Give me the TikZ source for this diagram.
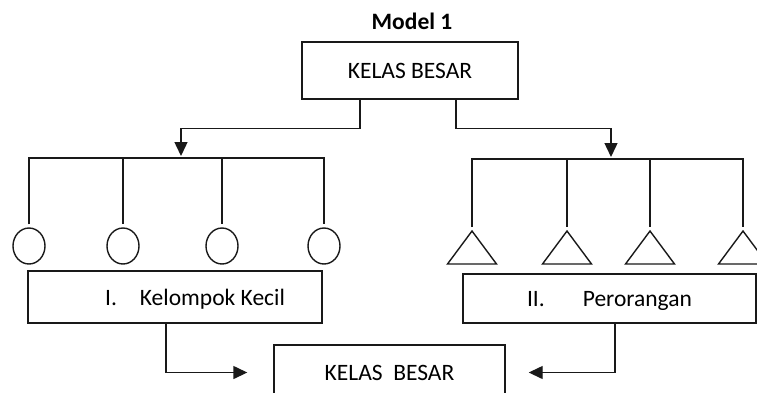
\documentclass[tikz,border=0pt]{standalone}
\usepackage{fontspec}
\setmainfont{Carlito}
\usetikzlibrary{arrows.meta,shapes.geometric}
\colorlet{linec}{black!90}
\tikzstyle{model} = [
  x=1pt,
  y=-1pt,
  line width=1.4pt,
  font=\fontsize{23.5}{28}\selectfont,
]
\tikzstyle{box} = [draw=linec, line width=1.4pt, inner sep=0pt, text depth=0pt]
\tikzstyle{member} = [ellipse, draw=linec, line width=1.4pt, inner sep=0pt,
  minimum width=32pt, minimum height=36pt]
\tikzstyle{arrow} = [-{Triangle[length=14pt,width=13pt]}]

\begin{document}
\begin{tikzpicture}[model]
      \useasboundingbox (0,0) rectangle (757,392);
      \clip (0,0) rectangle (757,392);

      % Boxes
      \node (judul) at (412,21) {\bfseries Model 1};
      \node[box, minimum width=216pt, minimum height=57pt] (kelas) at (410,70.5) {KELAS BESAR};
      \node[box, minimum width=294pt, minimum height=52pt] (kecil) at (175,297)
        {\hspace*{40pt}I.\hspace{23pt}Kelompok Kecil};
      \node[box, minimum width=293pt, minimum height=49pt] (orang) at (609.5,298.5)
        {II.\hspace{38pt}Perorangan};
      \node[box, minimum width=231pt, minimum height=55pt] (besar) at (389.5,372.5) {KELAS\ \ BESAR};

      \coordinate (combL) at (181,158);
      \coordinate (combR) at (611,159);

      % Circles
      \foreach \x [count=\i] in {29,123,222,324}
        \node[member] (c\i) at (\x,246) {};
      \draw[linec] ([yshift=3pt]c1.north) |- (combL) -| ([yshift=3pt]c4.north);
      \foreach \i in {2,3}
        \draw[linec] (c\i.north |- combL) -- ([yshift=3pt]c\i.north);

      % Triangles
      \foreach \x [count=\i] in {472,567,650,743} {
        \coordinate (t\i) at (\x,231);
        \draw[linec] (t\i) -- ++(-24.5,33) -- ++(49,0) -- cycle;
      }
      \draw[linec] ([yshift=4pt]t1) |- (combR) -| ([yshift=4pt]t4);
      \foreach \i in {2,3}
        \draw[linec] (t\i |- combR) -- ([yshift=4pt]t\i);

      % Arrows
      \draw[linec, arrow, shorten >=2pt] ([xshift=-50pt]kelas.south) -- ++(0,29) -| (combL);
      \draw[linec, arrow, shorten >=2pt] ([xshift=46pt]kelas.south) -- ++(0,29) -| (combR);
      \draw[linec, arrow] ([xshift=-9pt]kecil.south) |- ([xshift=-26pt]besar.west);
      \draw[linec, arrow] ([xshift=5.5pt]orang.south) |- ([xshift=23pt]besar.east);
    \end{tikzpicture}
\end{document}
